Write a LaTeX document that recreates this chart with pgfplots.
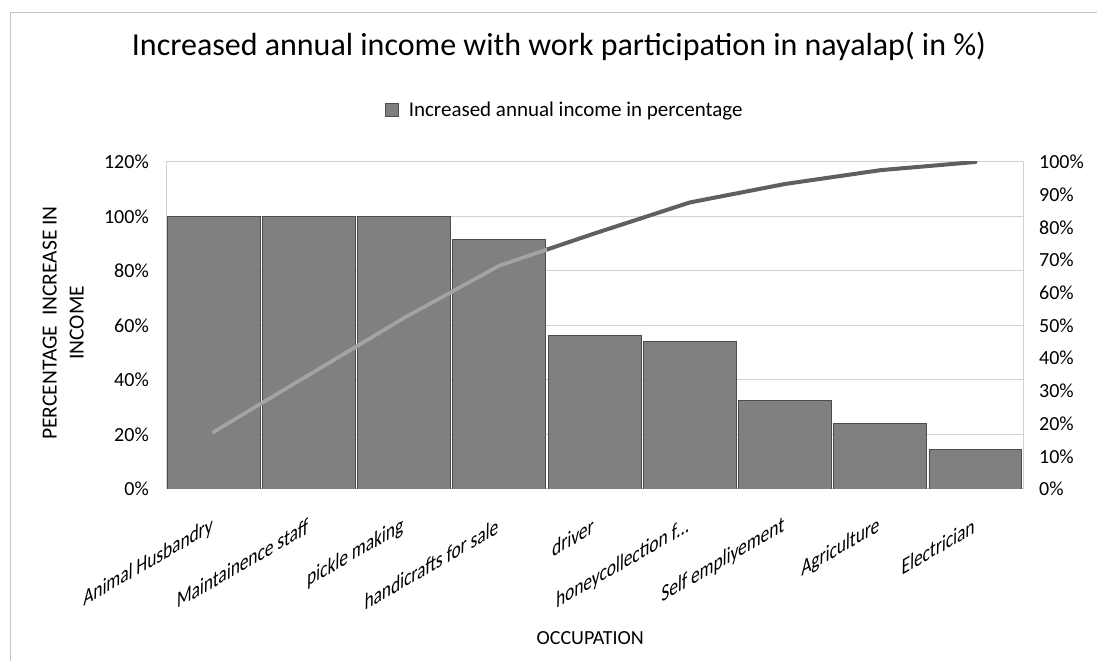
\documentclass[border=0pt]{standalone}
\usepackage{fontspec}
\setmainfont{Carlito}
\usepackage{pgfplots}
\pgfplotsset{compat=1.18}
\usepackage{pgfplotstable}

\definecolor{barfill}{HTML}{808080}
\definecolor{baredge}{HTML}{4D4D4D}
\definecolor{gridgray}{HTML}{D0D0D0}
\definecolor{framegray}{HTML}{C4C4C4}
\definecolor{linedark}{HTML}{5F5F5F}
\definecolor{linelight}{HTML}{A3A3A3}

% income increase per occupation (left axis) and cumulative share (right axis)
\pgfplotstableread{
idx value cum
0 100   17.44
1 100   34.87
2 100   52.31
3 91.7  68.30
4 56.5  78.15
5 54.3  87.62
6 32.4  93.27
7 24.2  97.49
8 14.4  100
}\occdata

\begin{document}
\begin{tikzpicture}
\path[use as bounding box] (0pt,0pt) rectangle (1097pt,661pt);
\draw[framegray, line width=1pt] (10.5pt,0pt) -- (10.5pt,648pt) -- (1097pt,648pt);

\begin{axis}[
  at={(166pt,172pt)}, anchor=south west, scale only axis,
  width=857pt, height=327pt,
  /pgf/number format/assume math mode=true,
  xmin=-0.5, xmax=8.5, ymin=0, ymax=120,
  xtick={0,...,8},
  xticklabels={Animal Husbandry, Maintainence staff, pickle making,
    handicrafts for sale, driver, honeycollection f\dots,
    Self empliyement, Agriculture, Electrician},
  xticklabel style={font=\fontsize{20}{24}\selectfont, anchor=east,
    rotate=30, xslant=0.6, inner sep=0pt, yshift=-31pt},
  ytick={0,20,...,120},
  yticklabel={\pgfmathprintnumber{\tick}\%},
  yticklabel style={font=\fontsize{20}{24}\selectfont, anchor=east,
    inner sep=0pt, xshift=-17pt},
  tick style={draw=none},
  ymajorgrids, grid style={gridgray, line width=1pt},
  axis line style={gridgray, line width=1pt},
  title={Increased annual income with work participation in nayalap( in \%)},
  title style={at={(axis description cs:0.4586,1.335)}, anchor=center,
    font=\fontsize{32}{38}\selectfont},
  xlabel={OCCUPATION},
  xlabel style={at={(axis description cs:0.495,-0.456)}, anchor=center,
    font=\fontsize{20}{24}\selectfont},
  ylabel={PERCENTAGE\ \ INCREASE IN\\INCOME},
  ylabel style={at={(axis description cs:-0.120,0.508)}, anchor=center,
    align=center, font=\fontsize{21.5}{27}\selectfont},
  legend style={at={(axis description cs:0.4656,1.159)}, anchor=center,
    draw=none, fill=none, font=\fontsize{21}{25}\selectfont},
  legend image code/.code={
    \draw[#1] (0pt,-6.5pt) rectangle (13pt,6.5pt);
    \path[draw=none, fill=none] (0pt,0pt) -- (21pt,0pt);},
]
\addplot[ybar, bar width=0.975, fill=barfill, draw=baredge, line width=0.8pt]
  table[x=idx, y=value]{\occdata};
\addlegendentry{Increased annual income in percentage}
\end{axis}

\begin{axis}[
  at={(166pt,172pt)}, anchor=south west, scale only axis,
  width=857pt, height=327pt,
  /pgf/number format/assume math mode=true,
  xmin=-0.5, xmax=8.5, ymin=0, ymax=100,
  axis x line=none, axis y line*=right,
  ytick={0,10,...,100},
  yticklabel={\pgfmathprintnumber{\tick}\%},
  yticklabel style={font=\fontsize{20}{24}\selectfont, anchor=west,
    inner sep=0pt, xshift=16pt},
  tick style={draw=none},
  axis line style={gridgray, line width=1pt},
]
\addplot[linedark, line width=4pt, line cap=round, line join=round]
  table[x=idx, y=cum]{\occdata};
% the part of the line lying over the bars is drawn lighter
\begin{scope}
  \clip (axis cs:-0.5,0) rectangle (axis cs:3.5,100);
  \addplot[linelight, line width=4pt, line cap=round, line join=round]
    table[x=idx, y=cum]{\occdata};
\end{scope}
\end{axis}
\end{tikzpicture}
\end{document}
